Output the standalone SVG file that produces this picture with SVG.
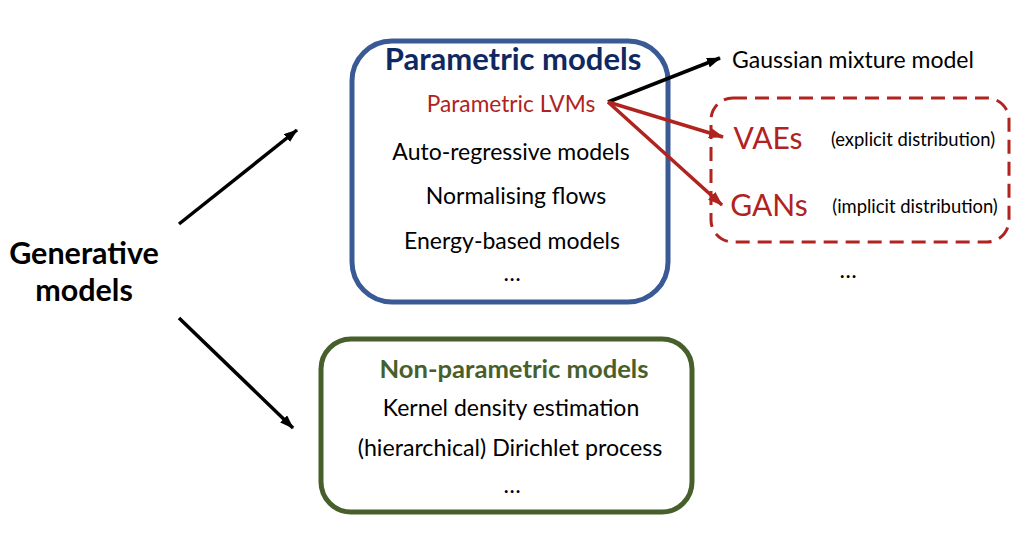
<svg xmlns="http://www.w3.org/2000/svg" width="1028" height="536" viewBox="0 0 1028 536">
<defs>
<style>
text{font-family:Lato,"Open Sans","Liberation Sans",sans-serif;text-anchor:middle}
.b{font-weight:bold}
.k{fill:#000}
.r{fill:#B0231F}
.n{font-size:23px}
.s{font-size:18.4px}
.line{fill:none;stroke-width:3.5}
</style>
<marker id="ak" viewBox="0 0 14 10" refX="13" refY="5" markerWidth="14" markerHeight="10" markerUnits="userSpaceOnUse" orient="auto"><path d="M0,0 L14,5 L0,10 Z" fill="#000"/></marker>
<marker id="ar" viewBox="0 0 14 10" refX="13" refY="5" markerWidth="15" markerHeight="11" markerUnits="userSpaceOnUse" orient="auto"><path d="M0,0 L14,5 L0,10 Z" fill="#B0231F"/></marker>
</defs>
<rect width="1028" height="536" fill="#fff"/>
<g id="generative">
<text class="b k" x="84" y="264" font-size="30.5">Generative</text>
<text class="b k" x="84" y="301" font-size="30.5">models</text>
</g>
<g id="parametric">
<rect x="352" y="41" width="316" height="261" rx="40" fill="#fff" stroke="#3A5A96" stroke-width="5"/>
<text class="b" x="513" y="70" font-size="31" fill="#0F2862">Parametric models</text>
<text class="r" x="511" y="112" font-size="22.7">Parametric LVMs</text>
<text class="k n" x="511" y="160">Auto-regressive models</text>
<text class="k n" x="516" y="204">Normalising flows</text>
<text class="k n" x="512" y="249">Energy-based models</text>
<text class="k n" x="512" y="281">…</text>
</g>
<g id="gmm">
<text class="k n" x="853" y="68">Gaussian mixture model</text>
</g>
<g id="lvm-box">
<rect x="711" y="98" width="298" height="144" rx="22" fill="none" stroke="#B0231F" stroke-width="3" stroke-dasharray="14 8"/>
<text class="r" x="768" y="149" font-size="30">VAEs</text>
<text class="k s" x="913" y="146">(explicit distribution)</text>
<text class="r" x="769" y="216" font-size="30">GANs</text>
<text class="k s" x="915" y="213">(implicit distribution)</text>
<text class="k n" x="848" y="278">…</text>
</g>
<g id="nonparametric">
<rect x="321" y="339" width="371" height="173" rx="30" fill="#fff" stroke="#47602B" stroke-width="5"/>
<text class="b" x="514" y="378" font-size="25.6" fill="#47602B">Non-parametric models</text>
<text class="k n" x="511" y="416">Kernel density estimation</text>
<text class="k" x="510" y="456" font-size="23.2">(hierarchical) Dirichlet process</text>
<text class="k n" x="512" y="493">…</text>
</g>
<g id="connectors">
<line class="line" x1="179" y1="224" x2="297" y2="130" stroke="#000" marker-end="url(#ak)"/>
<line class="line" x1="179" y1="318" x2="293" y2="428" stroke="#000" marker-end="url(#ak)"/>
<line class="line" x1="608" y1="102" x2="720" y2="58" stroke="#000" marker-end="url(#ak)"/>
<line class="line" x1="608" y1="102" x2="723" y2="137" stroke="#B0231F" marker-end="url(#ar)"/>
<line class="line" x1="608" y1="102" x2="722" y2="205" stroke="#B0231F" marker-end="url(#ar)"/>
</g>
</svg>
